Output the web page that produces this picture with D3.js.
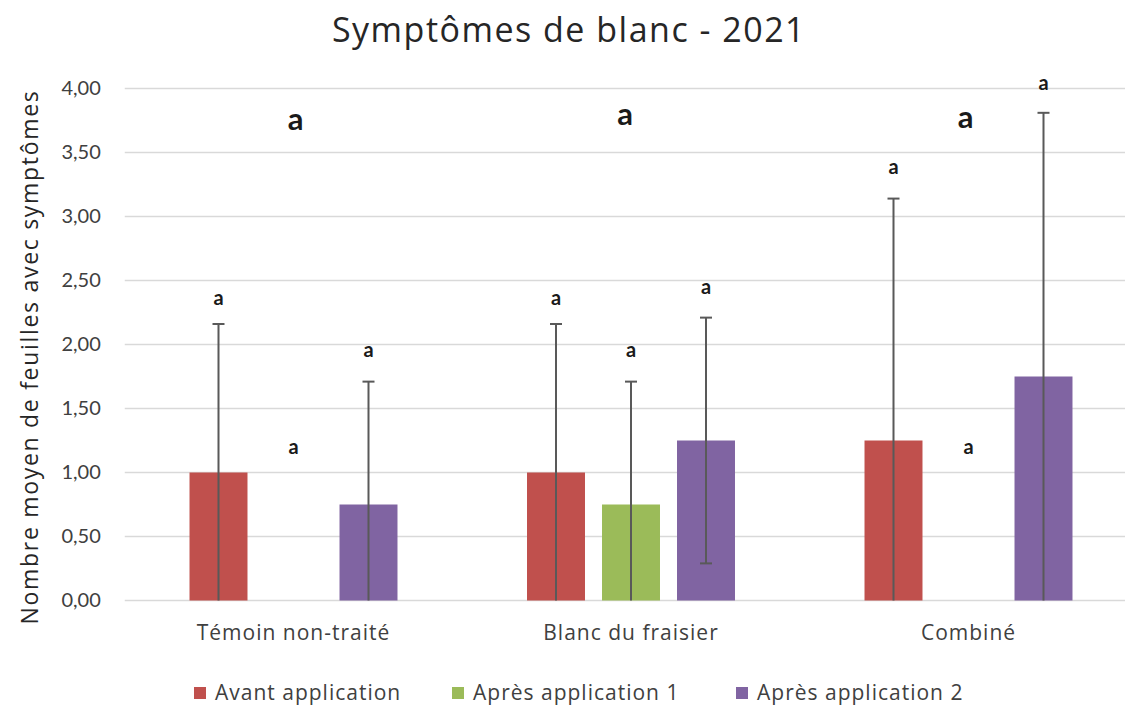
<!DOCTYPE html>
<html>
<head>
<meta charset="utf-8">
<script src="https://cdn.jsdelivr.net/npm/d3@7"></script>
<style>
  body { margin: 0; background: #fff; }
  text { font-family: "Open Sans", sans-serif; }
</style>
</head>
<body>
<svg id="chart" width="1125" height="710"></svg>
<script>
// data
var categories = ["Témoin non-traité", "Blanc du fraisier", "Combiné"]
var series = ["Avant application", "Après application 1", "Après application 2"]
var avant = [1.00, 1.00, 1.25]
var apres1 = [null, 0.75, null]
var apres2 = [0.75, 1.25, 1.75]
var errAvant = [1.16, 1.16, 1.89]
var errApres1 = [null, 0.96, null]
var errApres2 = [0.96, 0.96, 2.06]
// letters above the bars (y in data units)
var lettersAvant = [2.36, 2.36, 3.39]
var lettersApres1 = [1.20, 1.96, 1.20]
var lettersApres2 = [1.96, 2.45, 4.04]
var groupLetters = [3.76, 3.80, 3.78]
var yTicks = [0, 0.5, 1, 1.5, 2, 2.5, 3, 3.5, 4]
var colors = ["#C0504D", "#9BBB59", "#8064A2"]

var values = [avant, apres1, apres2]
var errors = [errAvant, errApres1, errApres2]
var letters = [lettersAvant, lettersApres1, lettersApres2]

var rows = []
series.forEach((s, si) => {
  categories.forEach((c, ci) => {
    rows.push({cat: c, serie: s, si: si, value: values[si][ci], err: errors[si][ci], letter: letters[si][ci]})
  })
})

var svg = d3.select("#chart")
var fmt = d => d3.format(".2f")(d).replace(".", ",")

var x = d3.scaleBand()
  .domain(categories)
  .range([124.75, 1137.25])
  .paddingInner(1/3)
  .paddingOuter(1/6)

var xs = d3.scaleBand()
  .domain(series)
  .range([0, x.bandwidth()])
  .paddingInner(0.227)
  .paddingOuter(0.1135)

var y = d3.scaleLinear()
  .domain([0, 4])
  .range([600.5, 88.5])

// gridlines
svg.append("g")
  .selectAll("line")
  .data(yTicks)
  .join("line")
  .attr("x1", 124.75)
  .attr("x2", 1137.25)
  .attr("y1", d => y(d))
  .attr("y2", d => y(d))
  .attr("stroke", "#d9d9d9")
  .attr("stroke-width", 1.5)

// y axis
var yAxis = d3.axisLeft(y).tickValues(yTicks).tickFormat(fmt).tickSize(0).tickPadding(24)
var gy = svg.append("g").attr("transform", "translate(124.75,0)").call(yAxis)
gy.select(".domain").remove()
gy.selectAll("text").attr("font-size", 20).attr("fill", "#404040").style("font-family", "Lato, sans-serif")

// x axis labels
var xAxis = d3.axisBottom(x).tickSize(0).tickPadding(25)
var gx = svg.append("g").attr("transform", "translate(0,600.5)").call(xAxis)
gx.select(".domain").remove()
gx.selectAll("text").attr("font-size", 21).attr("fill", "#404040").attr("letter-spacing", 1)
  .style("font-family", "'Open Sans', sans-serif")

// bars
var bars = rows.filter(d => d.value != null)
svg.append("g")
  .selectAll("rect")
  .data(bars)
  .join("rect")
  .attr("x", d => x(d.cat) + xs(d.serie))
  .attr("y", d => y(d.value))
  .attr("width", xs.bandwidth())
  .attr("height", d => y(0) - y(d.value))
  .attr("fill", d => colors[d.si])

// error bars
var eb = svg.append("g").attr("stroke", "#595959").attr("stroke-width", 2)
var cx = d => x(d.cat) + xs(d.serie) + xs.bandwidth() / 2
bars.forEach(d => {
  var hi = d.value + d.err
  var lo = Math.max(0, d.value - d.err)
  eb.append("line").attr("x1", cx(d)).attr("x2", cx(d)).attr("y1", y(hi)).attr("y2", y(lo))
  eb.append("line").attr("x1", cx(d) - 6).attr("x2", cx(d) + 6).attr("y1", y(hi)).attr("y2", y(hi))
  if (d.value - d.err >= 0)
    eb.append("line").attr("x1", cx(d) - 6).attr("x2", cx(d) + 6).attr("y1", y(lo)).attr("y2", y(lo))
})

// small letters
svg.append("g")
  .selectAll("text")
  .data(rows)
  .join("text")
  .attr("x", d => cx(d))
  .attr("y", d => y(d.letter))
  .attr("dy", "0.35em")
  .attr("text-anchor", "middle")
  .attr("font-size", 20)
  .attr("font-weight", "bold")
  .attr("fill", "#1a1a1a")
  .style("font-family", "Lato, sans-serif")
  .text("a")

// big group letters
svg.append("g")
  .selectAll("text")
  .data(categories)
  .join("text")
  .attr("x", (d, i) => x(d) + x.bandwidth() / 2 + [2, -6, -3][i])
  .attr("y", (d, i) => y(groupLetters[i]))
  .attr("dy", "0.35em")
  .attr("text-anchor", "middle")
  .attr("font-size", 31)
  .attr("font-weight", "bold")
  .attr("fill", "#1a1a1a")
  .style("font-family", "Lato, sans-serif")
  .text("a")

// title
svg.append("text")
  .attr("x", 569)
  .attr("y", 30)
  .attr("dy", "0.35em")
  .attr("text-anchor", "middle")
  .attr("font-size", 34)
  .attr("letter-spacing", 1.5)
  .attr("fill", "#262626")
  .text("Symptômes de blanc - 2021")

// y title
svg.append("text")
  .attr("transform", "translate(30,357) rotate(-90)")
  .attr("dy", "0.35em")
  .attr("text-anchor", "middle")
  .attr("font-size", 23)
  .attr("letter-spacing", 1.7)
  .attr("fill", "#262626")
  .text("Nombre moyen de feuilles avec symptômes")

// legend
var legendX = [194, 452, 736]
var lg = svg.append("g")
  .selectAll("g")
  .data(series)
  .join("g")
  .attr("transform", (d, i) => `translate(${legendX[i]},693)`)
lg.append("rect").attr("x", 0).attr("y", -6).attr("width", 12).attr("height", 12).attr("fill", (d, i) => colors[i])
lg.append("text").attr("x", 21).attr("dy", "0.35em").attr("font-size", 21).attr("letter-spacing", 1)
  .attr("fill", "#404040").text(d => d)
</script>
</body>
</html>
